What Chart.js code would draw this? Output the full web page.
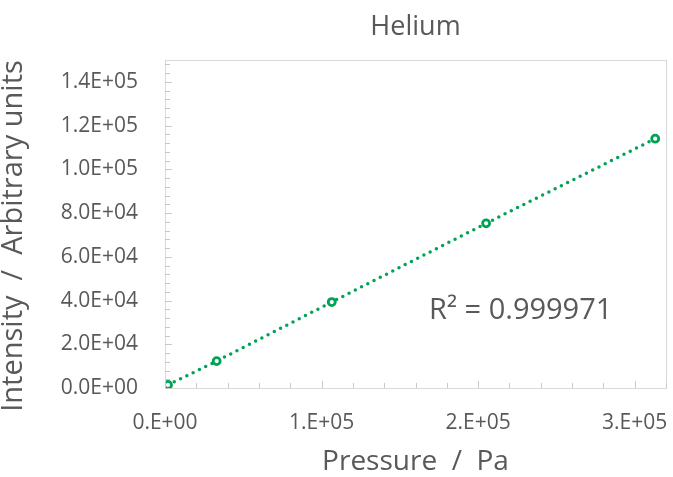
<!DOCTYPE html>
<html>
<head>
<meta charset="utf-8">
<script src="https://cdn.jsdelivr.net/npm/chart.js@4/dist/chart.umd.min.js"></script>
<style>
  html, body { margin: 0; padding: 0; background: #fff; }
  #wrap { width: 673px; height: 477px; position: relative; }
</style>
</head>
<body>
<div id="wrap"><canvas id="c"></canvas></div>
<script>
// Helium calibration points
const pressurePa = [1900, 33000, 106500, 205100, 313100];
const intensity = [1400, 12300, 39300, 75300, 114000];
const xTickLabels = ['0.E+00', '1.E+05', '2.E+05', '3.E+05'];
const yTickLabels = ['0.0E+00', '2.0E+04', '4.0E+04', '6.0E+04', '8.0E+04', '1.0E+05', '1.2E+05', '1.4E+05'];
const chartTitle = 'Helium';
const yTitle = 'Intensity  /  Arbitrary units';
const rSquaredText = 'R² = 0.999971';

const green = '#00a355';
const grey = '#595959';
const fontFamily = '"Open Sans", sans-serif';

// Excel-style inside tick marks, light plot border, titles and R² label
const frame = {
  id: 'frame',
  afterDraw(chart) {
    const { ctx, chartArea: a, scales } = chart;
    ctx.save();
    ctx.strokeStyle = '#d9d9d9';
    ctx.lineWidth = 1;
    ctx.strokeRect(a.left + 0.5, a.top + 0.5, a.right - a.left, a.bottom - a.top);
    ctx.strokeStyle = '#c8c8c8';
    ctx.beginPath();
    for (let v = 0; v <= 320000; v += 20000) {
      const x = Math.round(scales.x.getPixelForValue(v)) + 0.5;
      const len = v % 100000 === 0 ? 7 : 5;
      ctx.moveTo(x, a.bottom);
      ctx.lineTo(x, a.bottom - len);
    }
    for (let v = 0; v <= 148000; v += 4000) {
      const y = Math.round(scales.y.getPixelForValue(v)) + 0.5;
      const len = v % 20000 === 0 ? 7 : 5;
      ctx.moveTo(a.left, y);
      ctx.lineTo(a.left + len, y);
    }
    ctx.stroke();

    ctx.fillStyle = grey;
    ctx.textAlign = 'center';
    ctx.textBaseline = 'middle';
    ctx.font = '27px ' + fontFamily;
    ctx.fillText(chartTitle, (a.left + a.right) / 2, 27);

    ctx.font = '29px ' + fontFamily;
    ctx.fillText(rSquaredText, a.left + (a.right - a.left) * 0.71, a.top + (a.bottom - a.top) * 0.765);

    // y axis title, sits a bit lower than the plot centre like the original
    ctx.save();
    ctx.translate(14, 236);
    ctx.rotate(-Math.PI / 2);
    ctx.font = '29px ' + fontFamily;
    ctx.fillText(yTitle, 0, 0);
    ctx.restore();
    ctx.restore();
  }
};

new Chart(document.getElementById('c'), {
  type: 'scatter',
  data: {
    datasets: [{
      label: 'Helium',
      data: pressurePa.map((p, i) => ({ x: p, y: intensity[i] })),
      showLine: true,
      borderColor: green,
      borderWidth: 3.5,
      borderDash: [0, 7],
      borderCapStyle: 'round',
      pointRadius: 3.5,
      pointBorderWidth: 2.8,
      pointBorderColor: green,
      pointBackgroundColor: '#ffffff'
    }]
  },
  options: {
    responsive: true,
    maintainAspectRatio: false,
    animation: false,
    layout: { padding: { top: 60, right: 7, left: 0, bottom: 0 } },
    plugins: {
      legend: { display: false },
      tooltip: { enabled: false }
    },
    scales: {
      x: {
        type: 'linear',
        min: 0,
        max: 320000,
        afterFit: s => { s.height = 89; s.paddingLeft = 0; s.paddingRight = 0; },
        afterBuildTicks: s => { s.ticks = xTickLabels.map((_, i) => ({ value: i * 100000 })); },
        ticks: {
          color: grey,
          font: { family: fontFamily, size: 21 },
          padding: 22,
          maxRotation: 0,
          callback: (v, i) => xTickLabels[i]
        },
        grid: { display: false, drawTicks: false },
        border: { color: '#bfbfbf' },
        title: {
          display: true,
          text: 'Pressure  /  Pa',
          color: grey,
          font: { family: fontFamily, size: 28, lineHeight: 1.1 },
          padding: { top: 0, bottom: 0 }
        }
      },
      y: {
        type: 'linear',
        min: 0,
        max: 150000,
        afterFit: s => { s.width = 165; s.paddingTop = 0; s.paddingBottom = 0; },
        afterBuildTicks: s => { s.ticks = yTickLabels.map((_, i) => ({ value: i * 20000 })); },
        ticks: {
          color: grey,
          font: { family: fontFamily, size: 21 },
          padding: 27,
          callback: (v, i) => yTickLabels[i]
        },
        grid: { display: false, drawTicks: false },
        border: { color: '#bfbfbf' }
      }
    }
  },
  plugins: [frame]
});
</script>
</body>
</html>
